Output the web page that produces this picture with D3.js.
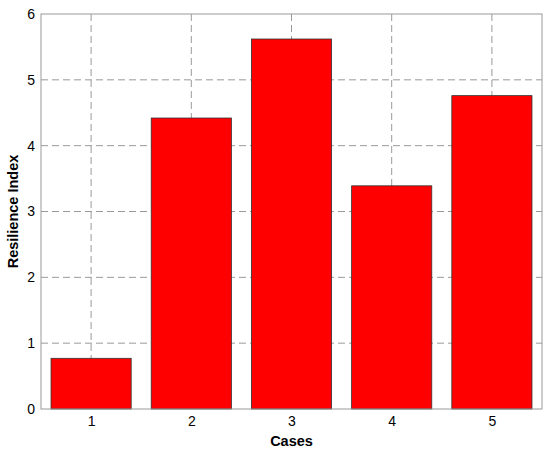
<!DOCTYPE html>
<html>
<head>
<meta charset="utf-8">
<script src="https://cdn.jsdelivr.net/npm/d3@7"></script>
<style>
  body { margin: 0; background: #fff; }
  svg { display: block; font-family: Arial, "Liberation Sans", sans-serif; }
</style>
</head>
<body>
<div id="chart"></div>
<script>
// Datos del gráfico
const cases = [1, 2, 3, 4, 5];
const resilience = [0.77, 4.42, 5.62, 3.39, 4.76];
const yTicks = [0, 1, 2, 3, 4, 5, 6];

const width = 550;
const height = 452;
const margin = { top: 14, right: 8, bottom: 43, left: 41 };
const chartWidth = width - margin.left - margin.right;
const chartHeight = height - margin.top - margin.bottom;

const svg = d3.select('#chart').append('svg')
    .attr('width', width)
    .attr('height', height);

const g = svg.append('g')
    .attr('transform', `translate(${margin.left},${margin.top})`);

// Escalas
const xScale = d3.scaleLinear()
    .domain([0.5, 5.5])
    .range([0, chartWidth]);

const yScale = d3.scaleLinear()
    .domain([0, 6])
    .range([chartHeight, 0]);

// Rejilla
g.append('g')
    .selectAll('line')
    .data(cases)
    .enter()
    .append('line')
    .attr('x1', d => xScale(d))
    .attr('x2', d => xScale(d))
    .attr('y1', 0)
    .attr('y2', chartHeight)
    .attr('stroke', '#999')
    .attr('stroke-dasharray', '7,4');

g.append('g')
    .selectAll('line')
    .data(yTicks.slice(1, -1))
    .enter()
    .append('line')
    .attr('x1', 0)
    .attr('x2', chartWidth)
    .attr('y1', d => yScale(d))
    .attr('y2', d => yScale(d))
    .attr('stroke', '#999')
    .attr('stroke-dasharray', '7,4');

// Barras
const barWidth = xScale(1.8) - xScale(1);
g.selectAll('.bar')
    .data(cases)
    .enter()
    .append('rect')
    .attr('class', 'bar')
    .attr('x', d => xScale(d) - barWidth / 2)
    .attr('y', (d, i) => yScale(resilience[i]))
    .attr('width', barWidth)
    .attr('height', (d, i) => chartHeight - yScale(resilience[i]))
    .attr('fill', '#ff0000')
    .attr('stroke', '#333')
    .attr('stroke-width', 0.8);

// Eje X
const xAxis = g.append('g')
    .attr('transform', `translate(0, ${chartHeight})`)
    .call(d3.axisBottom(xScale).tickValues(cases).tickFormat(d3.format('d')).tickSize(0).tickPadding(7));
xAxis.selectAll('text')
    .attr('fill', '#000')
    .style('font-size', '14px');

// Eje Y
const yAxis = g.append('g')
    .call(d3.axisLeft(yScale).tickValues(yTicks).tickFormat(d3.format('d')).tickSize(0).tickPadding(6));
yAxis.selectAll('text')
    .attr('fill', '#000')
    .style('font-size', '14px');

g.selectAll('.domain').remove();

// Marco
g.append('rect')
    .attr('x', 0)
    .attr('y', 0)
    .attr('width', chartWidth)
    .attr('height', chartHeight)
    .attr('fill', 'none')
    .attr('stroke', '#999')
    .attr('stroke-width', 1);

// Títulos de los ejes
svg.append('text')
    .attr('x', margin.left + chartWidth / 2)
    .attr('y', height - 6)
    .attr('text-anchor', 'middle')
    .attr('font-size', '14.5px')
    .attr('font-weight', 'bold')
    .text('Cases');

svg.append('text')
    .attr('transform', `translate(18, ${margin.top + chartHeight / 2}) rotate(-90)`)
    .attr('text-anchor', 'middle')
    .attr('font-size', '14.5px')
    .attr('font-weight', 'bold')
    .text('Resilience Index');
</script>
</body>
</html>
